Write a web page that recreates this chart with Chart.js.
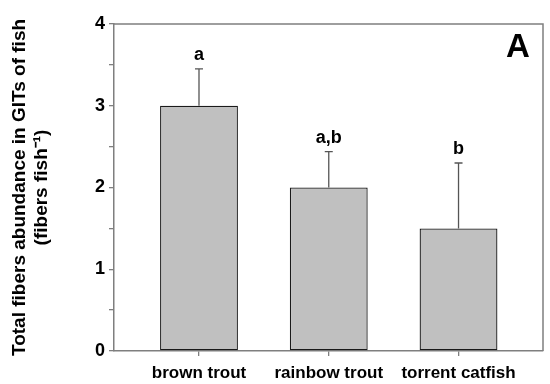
<!DOCTYPE html>
<html>
<head>
<meta charset="utf-8">
<script src="https://cdn.jsdelivr.net/npm/chart.js@4"></script>
<style>
html,body{margin:0;padding:0;background:#fff;}
#wrap{width:550px;height:384px;}
</style>
</head>
<body>
<div id="wrap"><canvas id="c" width="550" height="384"></canvas></div>
<script>
const categories = ['brown trout', 'rainbow trout', 'torrent catfish'];
const positions = [1, 2, 3];
const means = [3.0, 2.0, 1.5];
const errors = [0.45, 0.44, 0.80];
const letters = ['a', 'a,b', 'b'];
const yTicks = [0, 0.5, 1, 1.5, 2, 2.5, 3, 3.5, 4];
const panelLabel = 'A';
const yTitle = ['Total fibers abundance in GITs of fish', '(fibers fish\u207B\u00B9)'];

const FONT = "'Liberation Sans', Arial, sans-serif";
const AXIS = '#7f7f7f';

const extras = {
  id: 'extras',
  afterDatasetsDraw(chart) {
    const {ctx, chartArea: a, scales: {x, y}} = chart;
    ctx.save();
    // top & right frame
    ctx.strokeStyle = AXIS;
    ctx.lineWidth = 1.5;
    ctx.beginPath();
    ctx.moveTo(a.left, a.top);
    ctx.lineTo(a.right, a.top);
    ctx.lineTo(a.right, a.bottom);
    ctx.stroke();
    // error bars
    ctx.strokeStyle = '#555';
    ctx.lineWidth = 1.3;
    for (let i = 0; i < means.length; i++) {
      const px = x.getPixelForValue(positions[i]);
      const y0 = y.getPixelForValue(means[i]);
      const y1 = y.getPixelForValue(means[i] + errors[i]);
      ctx.beginPath();
      ctx.moveTo(px, y0);
      ctx.lineTo(px, y1);
      ctx.moveTo(px - 4, y1);
      ctx.lineTo(px + 4, y1);
      ctx.stroke();
      ctx.fillStyle = '#000';
      ctx.font = 'bold 18px ' + FONT;
      ctx.textAlign = 'center';
      ctx.textBaseline = 'alphabetic';
      ctx.fillText(letters[i], px, y1 - 9);
    }
    ctx.font = 'bold 33px ' + FONT;
    ctx.textAlign = 'center';
    ctx.textBaseline = 'alphabetic';
    ctx.fillStyle = '#000';
    ctx.fillText(panelLabel, a.right - 25, a.top + 33);
    ctx.restore();
  }
};

new Chart(document.getElementById('c'), {
  type: 'bar',
  data: {
    datasets: [{
      data: positions.map((p, i) => ({x: p, y: means[i]})),
      backgroundColor: '#c0c0c0',
      borderColor: '#1a1a1a',
      borderWidth: 1.3,
      borderSkipped: false,
      barPercentage: 0.6,
      categoryPercentage: 1
    }]
  },
  options: {
    responsive: false,
    animation: false,
    devicePixelRatio: 1,
    layout: {padding: {top: 24, right: 7, left: 0, bottom: 0}},
    plugins: {legend: {display: false}, tooltip: {enabled: false}},
    scales: {
      x: {
        type: 'linear',
        offset: false,
        min: 0.345,
        max: 3.651,
        afterBuildTicks: s => { s.ticks = positions.map(v => ({value: v})); },
        afterFit: s => { s.height = 33; },
        grid: {offset: false, drawOnChartArea: false, tickLength: 5, color: AXIS, lineWidth: 1.3},
        border: {color: AXIS, width: 1.5},
        ticks: {
          padding: 7,
          color: '#000',
          font: {family: FONT, size: 17, weight: 'bold'},
          callback: v => categories[positions.indexOf(v)] || ''
        }
      },
      y: {
        min: 0,
        max: 4,
        afterBuildTicks: s => { s.ticks = yTicks.map(v => ({value: v})); },
        afterFit: s => { s.width = 114; },
        grid: {drawOnChartArea: false, tickLength: 5, color: AXIS, lineWidth: 1.3},
        border: {color: AXIS, width: 1.5},
        ticks: {
          padding: 4,
          color: '#000',
          font: {family: FONT, size: 18, weight: 'bold'},
          callback: v => Number.isInteger(v) ? String(v) : ''
        },
        title: {
          display: true,
          text: yTitle,
          color: '#000',
          font: {family: FONT, size: 19, weight: 'bold', lineHeight: 1.2},
          padding: {top: 8, bottom: 0}
        }
      }
    }
  },
  plugins: [extras]
});
</script>
</body>
</html>
